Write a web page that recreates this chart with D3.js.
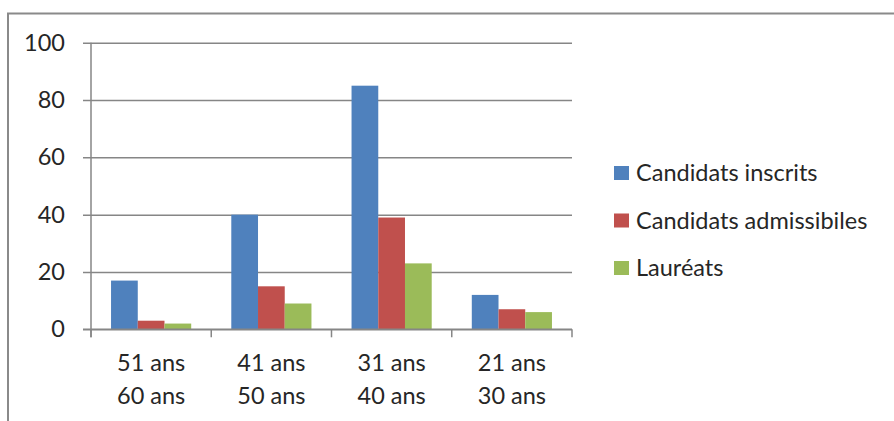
<!DOCTYPE html>
<html>
<head>
<meta charset="utf-8">
<script src="https://cdn.jsdelivr.net/npm/d3@7"></script>
<style>
  html, body { margin: 0; padding: 0; background: #fff; }
  svg { display: block; }
  text { font-family: Lato, "Open Sans", sans-serif; fill: #262626; }
</style>
</head>
<body>
<svg id="chart" width="894" height="421"></svg>
<script>
// Age groups and counts per series
const categories = [["51 ans", "60 ans"], ["41 ans", "50 ans"], ["31 ans", "40 ans"], ["21 ans", "30 ans"]];
const seriesNames = ["Candidats inscrits", "Candidats admissibiles", "Lauréats"];
const inscrits = [17, 40, 85, 12];
const admissibles = [3, 15, 39, 7];
const laureats = [2, 9, 23, 6];
const yTicks = [0, 20, 40, 60, 80, 100];
const colors = ["#4F81BD", "#C0504D", "#9BBB59"];

const seriesValues = [inscrits, admissibles, laureats];
const fontSize = 23.5;
const svg = d3.select("#chart");

// Outer chart frame
svg.append("rect")
  .attr("x", 8).attr("y", 13.5)
  .attr("width", 900).attr("height", 420)
  .attr("fill", "none").attr("stroke", "#8a8a8a").attr("stroke-width", 2);

const plot = { left: 91, right: 572, top: 42.7, bottom: 329.3 };

const catKeys = categories.map((c, i) => i);
const x0 = d3.scaleBand().domain(catKeys).range([plot.left, plot.right]).paddingInner(0).paddingOuter(0);
const x1 = d3.scaleBand().domain(d3.range(seriesNames.length))
  .range([0, x0.bandwidth()]).paddingInner(0).paddingOuter(0.75);
const y = d3.scaleLinear().domain([0, 100]).range([plot.bottom, plot.top]);

// Horizontal gridlines with left tick marks
const yAxis = d3.axisLeft(y).tickValues(yTicks).tickSize(plot.right - plot.left + 8).tickPadding(18).tickFormat(d3.format("d"));
const gy = svg.append("g").attr("transform", `translate(${plot.right},0)`).call(yAxis);
gy.select(".domain").remove();
gy.selectAll(".tick line").attr("stroke", "#868686").attr("stroke-width", 1.5);
gy.selectAll(".tick text").attr("font-size", fontSize).attr("font-family", null).style("fill", "#262626");

// Bars
const groups = svg.append("g").selectAll("g")
  .data(catKeys).join("g")
  .attr("transform", i => `translate(${x0(i)},0)`);
groups.selectAll("rect")
  .data(i => seriesValues.map((vals, s) => ({ s, v: vals[i] })))
  .join("rect")
  .attr("x", d => x1(d.s))
  .attr("width", x1.bandwidth())
  .attr("y", d => y(d.v))
  .attr("height", d => y(0) - y(d.v))
  .attr("fill", d => colors[d.s]);

// Category axis along the baseline
const gx = svg.append("g").attr("transform", `translate(0,${plot.bottom})`);
gx.append("line")
  .attr("x1", plot.left - 8).attr("x2", plot.right)
  .attr("y1", 0).attr("y2", 0)
  .attr("stroke", "#868686").attr("stroke-width", 1.5);
const boundaries = catKeys.map(i => x0(i)).concat([plot.right]);
gx.selectAll("line.sep").data(boundaries).join("line")
  .attr("class", "sep")
  .attr("x1", d => d).attr("x2", d => d)
  .attr("y1", 0).attr("y2", 8)
  .attr("stroke", "#868686").attr("stroke-width", 1.5);
const labels = gx.selectAll("text.cat").data(catKeys).join("text")
  .attr("class", "cat")
  .attr("x", i => x0(i) + x0.bandwidth() / 2)
  .attr("y", 42)
  .attr("text-anchor", "middle")
  .attr("font-size", fontSize);
labels.selectAll("tspan").data(i => categories[i]).join("tspan")
  .attr("x", function () { return this.parentNode.getAttribute("x"); })
  .attr("dy", (d, j) => j === 0 ? 0 : 33)
  .text(d => d);

// Vertical value axis line
svg.append("line")
  .attr("x1", plot.left).attr("x2", plot.left)
  .attr("y1", plot.top).attr("y2", plot.bottom + 8)
  .attr("stroke", "#868686").attr("stroke-width", 1.5);

// Legend
const legend = svg.append("g").selectAll("g")
  .data(seriesNames).join("g")
  .attr("transform", (d, i) => `translate(614,${166 + i * 47.5})`);
legend.append("rect")
  .attr("width", 15).attr("height", 14)
  .attr("fill", (d, i) => colors[i]);
legend.append("text")
  .attr("x", 22).attr("y", 7)
  .attr("dy", "0.35em")
  .attr("font-size", fontSize)
  .text(d => d);
</script>
</body>
</html>
